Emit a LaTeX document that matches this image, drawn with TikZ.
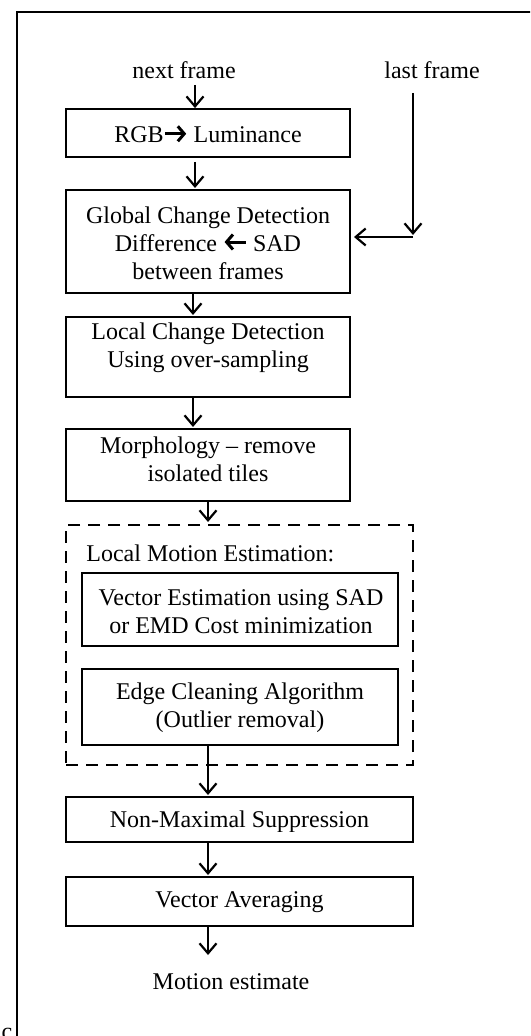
\documentclass[tikz,border=0pt]{standalone}
\usepackage{fontspec}
\setmainfont{Liberation Serif}
\usetikzlibrary{arrows.meta}
\tikzset{
  px/.style={x=0.5pt,y=-0.5pt},
  box/.style={draw,line width=0.9pt,inner sep=0pt,minimum width=142pt},
  widebox/.style={draw,line width=0.9pt,inner sep=0pt,minimum width=173.5pt},
  innerbox/.style={draw,line width=0.9pt,inner sep=0pt,minimum width=158pt},
  txt/.style={align=center,inner sep=0pt,font=\fontsize{12}{14}\selectfont},
  arr/.style={line width=1.1pt,-{Straight Barb[length=5pt,width=8.5pt,line width=1.1pt]}},
  frame/.style={line width=1pt}
}
\newcommand{\rarr}{\tikz[baseline=0pt,x=1pt,y=1pt]\draw[line width=1.5pt,-{Straight Barb[length=3.2pt,width=7.5pt,line width=1.5pt]}] (0,4.6) -- (10.5,4.6);}
\newcommand{\larr}{\tikz[baseline=0pt,x=1pt,y=1pt]\draw[line width=1.5pt,-{Straight Barb[length=3.2pt,width=7.5pt,line width=1.5pt]}] (10.5,4.6) -- (0,4.6);}
\begin{document}
\begin{tikzpicture}[px]
\useasboundingbox (0,0) rectangle (530,1036);
\clip (0,0) rectangle (530,1036);
% outer frame
\coordinate (ftr) at (545,12);
\coordinate (ftl) at (17,12);
\coordinate (fbl) at (17,1045);
\draw[frame] (ftr) -- (ftl) -- (fbl);
\node[txt,anchor=base] (cc) at (7,1039) {c};

% inputs
\node[txt] (next) at (184,70) {next frame};
\node[txt] (last) at (432,70) {last frame};

% boxes
\node[box,minimum height=24pt] (rgb) at (208,133) {};
\node[txt] (rgbt) at (208,134) {RGB\rarr\ Luminance};

\node[box,minimum height=51.5pt] (glob) at (208,241.5) {};
\node[txt] (globt) at (208,243) {Global Change Detection\\Difference \larr\ SAD\\between frames};

\node[box,minimum height=40pt] (loc) at (208,357) {};
\node[txt] (loct) at (208,347.5) {Local Change Detection\\Using over-sampling};

\node[box,minimum height=36pt] (morph) at (208,465) {};
\node[txt] (morpht) at (208,459.5) {Morphology -- remove\\isolated tiles};

\node[widebox,dashed,dash pattern=on 6pt off 4pt,minimum height=120pt] (lme) at (239.5,645) {};
\node[txt,anchor=west] (lmet) at (86,553) {Local Motion Estimation:};

\node[innerbox,minimum height=36.5pt] (vec) at (240,609.5) {};
\node[txt] (vect) at (241,612) {Vector Estimation using SAD\\or EMD Cost minimization};

\node[innerbox,minimum height=38pt] (edge) at (240,707) {};
\node[txt] (edget) at (240,708) {Edge Cleaning Algorithm\\(Outlier removal)};

\node[widebox,minimum height=22.5pt] (nms) at (239.5,819.5) {};
\begin{scope}
\clip (66,797) rectangle (413,831);
\node[txt] (nmst) at (239.5,822) {Non-Maximal Suppression};
\end{scope}

\node[widebox,minimum height=24.5pt] (avg) at (239.5,901.5) {};
\node[txt] (avgt) at (239.5,902) {Vector Averaging};

\node[txt] (mot) at (231,982) {Motion estimate};

% connectors
\coordinate (a1s) at (195,85);
\draw[arr] (a1s) -- (a1s |- rgb.north);
\coordinate (a2s) at (195,162);
\coordinate (a2e) at (195,188);
\draw[arr] (a2s) -- (a2e);
\coordinate (a3e) at (193,315);
\draw[arr] (glob.south -| a3e) -- (a3e);
\coordinate (a4e) at (193,427);
\draw[arr] (loc.south -| a4e) -- (a4e);
\coordinate (a5e) at (208,522);
\draw[arr] (morph.south) -- (a5e);
\coordinate (a6e) at (208,795);
\draw[arr] (edge.south -| a6e) -- (a6e);
\coordinate (a7e) at (208,875);
\draw[arr] (nms.south -| a7e) -- (a7e);
\coordinate (a8e) at (208,955);
\draw[arr] (avg.south -| a8e) -- (a8e);

\coordinate (l1) at (413,93);
\coordinate (l2) at (413,235);
\coordinate (l3) at (413,237);
\coordinate (l4) at (354,237);
\draw[arr] (l1) -- (l2);
\draw[arr] (l3) -- (l4);
\end{tikzpicture}
\end{document}
